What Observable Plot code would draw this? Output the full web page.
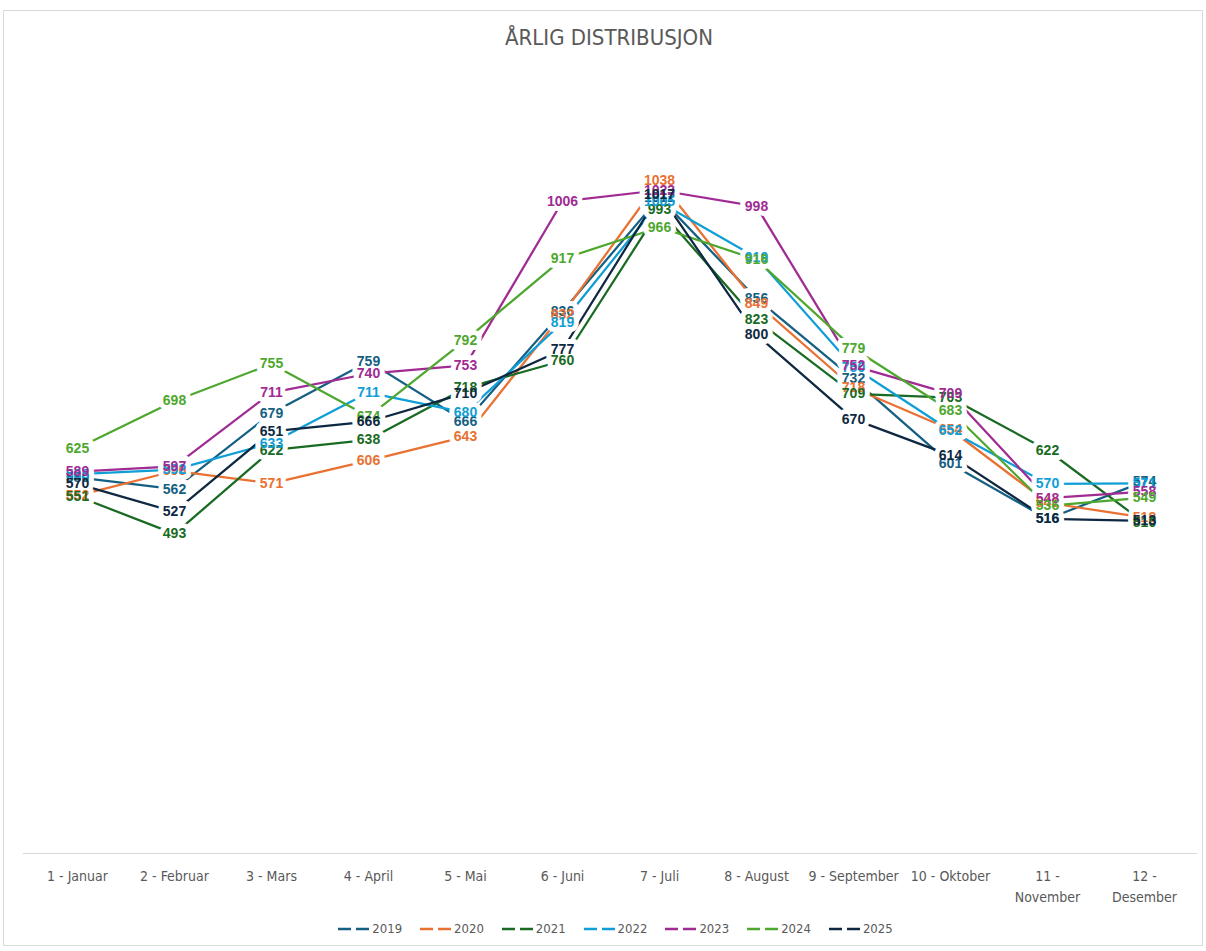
<!DOCTYPE html>
<html>
<head>
<meta charset="utf-8">
<script src="https://cdn.jsdelivr.net/npm/d3@7"></script>
<script src="https://cdn.jsdelivr.net/npm/@observablehq/plot@0.6"></script>
<style>
  body { margin: 0; background: #fff; width: 1206px; height: 951px; position: relative; overflow: hidden; }
  #frame { position: absolute; left: 3px; top: 10px; width: 1200px; height: 936px; border: 1px solid #d9d9d9; box-sizing: border-box; }
  #title { position: absolute; top: 25px; left: 6px; width: 1206px; text-align: center; font-family: "Liberation Sans Narrow", "DejaVu Sans Condensed", "Liberation Sans", sans-serif; font-size: 22px; color: #595959; }
  #chart { position: absolute; left: 0; top: 0; }
  #legend { position: absolute; top: 921px; left: 12px; width: 1206px; display: flex; justify-content: center; gap: 17px; font-family: "Liberation Sans Narrow", "DejaVu Sans Condensed", "Liberation Sans", sans-serif; font-size: 13px; color: #595959; }
  #legend .item { display: flex; align-items: center; gap: 1px; }
</style>
</head>
<body>
<div id="frame"></div>
<div id="title">ÅRLIG DISTRIBUSJON</div>
<div id="chart"></div>
<div id="legend"></div>
<script>
const months = ["1 - Januar", "2 - Februar", "3 - Mars", "4 - April", "5 - Mai", "6 - Juni", "7 - Juli", "8 - August", "9 - September", "10 - Oktober", "11 - November", "12 - Desember"];
const monthLabels = ["1 - Januar", "2 - Februar", "3 - Mars", "4 - April", "5 - Mai", "6 - Juni", "7 - Juli", "8 - August", "9 - September", "10 - Oktober", "11 -\nNovember", "12 -\nDesember"];
const years = ["2019", "2020", "2021", "2022", "2023", "2024", "2025"];
const colors = ["#156082", "#E97132", "#196B24", "#0F9ED5", "#A02B93", "#4EA72E", "#0E2841"];

const v2019 = [580, 562, 679, 759, 666, 836, 1012, 856, 732, 601, 516, 574];
const v2020 = [552, 590, 571, 606, 643, 832, 1038, 849, 718, 654, 541, 518];
const v2021 = [551, 493, 622, 638, 718, 760, 993, 823, 709, 703, 622, 510];
const v2022 = [585, 592, 633, 711, 680, 819, 1005, 919, 750, 652, 570, 571];
const v2023 = [589, 597, 711, 740, 753, 1006, 1023, 998, 752, 709, 548, 558];
const v2024 = [625, 698, 755, 674, 792, 917, 966, 916, 779, 683, 536, 549];
const v2025 = [570, 527, 651, 666, 710, 777, 1017, 800, 670, 614, 516, 513];

const series = [v2019, v2020, v2021, v2022, v2023, v2024, v2025];
const rows = [];
years.forEach((y, i) => series[i].forEach((v, j) => rows.push({year: y, month: months[j], value: v})));

const labelFont = "Liberation Sans, Arial, sans-serif";
const axisFont = "\"Liberation Sans Narrow\", \"DejaVu Sans Condensed\", \"Liberation Sans\", sans-serif";

const chart = Plot.plot({
  width: 1206,
  height: 910,
  marginTop: 75,
  marginBottom: 57,
  marginLeft: 23,
  marginRight: 9,
  x: {type: "point", domain: months, padding: 0.5},
  y: {domain: [0, 1200], axis: null},
  color: {domain: years, range: colors},
  style: {background: "transparent"},
  marks: [
    Plot.ruleY([0], {stroke: "#d9d9d9", strokeWidth: 1}),
    Plot.axisX({
      tickSize: 0,
      tickPadding: 13,
      fontSize: 14,
      lineHeight: 1.5,
      fill: "#595959",
      fontFamily: axisFont,
      tickFormat: (d) => monthLabels[months.indexOf(d)],
      label: null
    }),
    Plot.line(rows, {x: "month", y: "value", z: "year", stroke: "year", strokeWidth: 2.25}),
    Plot.text(rows, {x: "month", y: "value", text: (d) => String(d.value), fill: "white", stroke: "white", strokeWidth: 10, fontSize: 14, fontWeight: "bold", fontFamily: labelFont}),
    Plot.text(rows, {x: "month", y: "value", text: (d) => String(d.value), fill: "year", fontSize: 14, fontWeight: "bold", fontFamily: labelFont})
  ]
});
document.getElementById("chart").appendChild(chart);

const legend = document.getElementById("legend");
years.forEach((y, i) => {
  const item = document.createElement("div");
  item.className = "item";
  item.innerHTML = `<svg width="34" height="10"><line x1="1" y1="5" x2="33" y2="5" stroke="${colors[i]}" stroke-width="2.5" stroke-dasharray="13 5"/></svg><span>${y}</span>`;
  legend.appendChild(item);
});
</script>
</body>
</html>
